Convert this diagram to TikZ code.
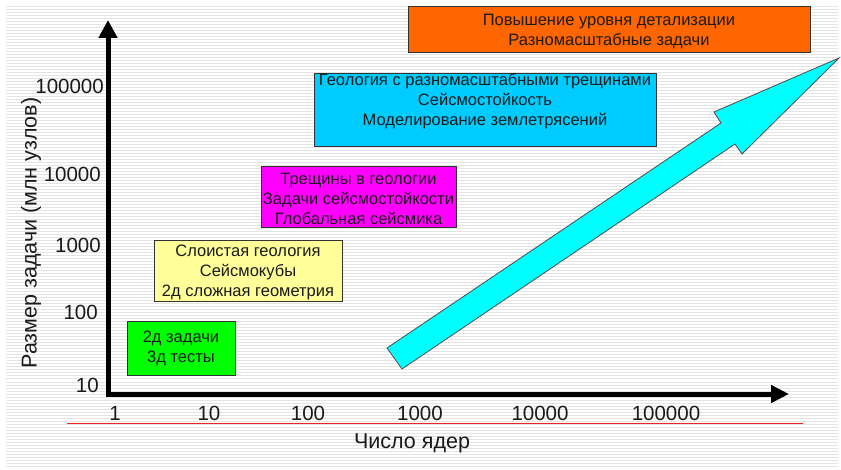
\documentclass[tikz,border=0pt]{standalone}
\usepackage{fontspec}
\setmainfont{Liberation Sans}
\usetikzlibrary{arrows.meta}
\definecolor{cgreen}{HTML}{00FF00}
\definecolor{cyellow}{HTML}{FFFF99}
\definecolor{cmagenta}{HTML}{FF00FF}
\definecolor{cblue}{HTML}{00CCFF}
\definecolor{corange}{HTML}{FF6600}
\definecolor{ccyan}{HTML}{00FFFF}
\definecolor{stripe}{HTML}{E4E4E4}
\definecolor{txt}{HTML}{1A1A1A}
\definecolor{cred}{HTML}{F02020}
\begin{document}
\begin{tikzpicture}[x=1pt,y=-1pt,
  boxframe/.style={draw=black!80, line width=1pt},
  boxtext/.style={text=txt, align=center, inner sep=0pt, font=\fontsize{16.5}{20}\selectfont},
  axlabel/.style={text=txt, inner sep=0pt, font=\fontsize{21.5}{24}\selectfont},
  ticklabel/.style={text=txt, inner sep=0pt, font=\fontsize{20.5}{24}\selectfont}]
\useasboundingbox (0,0) rectangle (841,470);
\fill[white] (0,0) rectangle (841,470);
% background stripes
\foreach \yy in {7,10,...,466} {\draw[stripe, line width=1pt] (6,\yy) -- (838,\yy);}
% axes
\coordinate (ytop) at (108,20);
\coordinate (corner) at (108,394);
\coordinate (xend) at (789,394);
\draw[line width=5pt, line join=miter, {Triangle[length=18pt,width=18pt]}-{Triangle[length=18pt,width=17pt]}] (ytop) -- (corner) -- (xend);
% red line
\coordinate (r1) at (67,423.5);
\coordinate (r2) at (803,423.5);
\draw[cred, line width=1.3pt] (r1) -- (r2);
% y tick labels
\node[ticklabel, anchor=east] (y5) at (104,86) {100000};
\node[ticklabel, anchor=east] (y4) at (101,174) {10000};
\node[ticklabel, anchor=east] (y3) at (101,245) {1000};
\node[ticklabel, anchor=east] (y2) at (98,312) {100};
\node[ticklabel, anchor=east] (y1) at (99,385) {10};
% x tick labels
\node[ticklabel] (x0) at (115,413) {1};
\node[ticklabel] (x1) at (209,413) {10};
\node[ticklabel] (x2) at (308,413) {100};
\node[ticklabel] (x3) at (420,413) {1000};
\node[ticklabel] (x4) at (540,413) {10000};
\node[ticklabel] (x5) at (666,413) {100000};
% axis titles
\node[axlabel] (xt) at (412,443) {Число ядер};
\node[axlabel, rotate=90] (yt) at (31,233) {Размер задачи (млн узлов)};
% boxes
\draw[boxframe, fill=cgreen] (127,322) rectangle (235,376);
\node[boxtext] (green) at (181,348.5) {2д задачи\\3д тесты};
\draw[boxframe, fill=cyellow] (154,241) rectangle (342,302);
\node[boxtext] (yellow) at (248,272.5) {Слоистая геология\\Сейсмокубы\\2д сложная геометрия};
\draw[boxframe, fill=cmagenta] (261,167) rectangle (456,228);
\node[boxtext] (magenta) at (358.5,198.5) {Трещины в геологии\\Задачи сейсмостойкости\\Глобальная сейсмика};
\draw[boxframe, fill=cblue] (314,74) rectangle (656,147);
\node[boxtext] (blue) at (485,101.5) {Геология с разномасштабными трещинами\\Сейсмостойкость\\Моделирование землетрясений};
\draw[boxframe, fill=corange] (408,7) rectangle (810,53);
\node[boxtext] (orange) at (609,31) {Повышение уровня детализации\\Разномасштабные задачи};
% big arrow
\draw[draw=black!70, line width=0.8pt, fill=ccyan, line join=miter]
  (387,348) -- (721,123) -- (714,112) -- (839,58) -- (742,154) -- (735,144) -- (402,369) -- cycle;
\end{tikzpicture}
\end{document}
